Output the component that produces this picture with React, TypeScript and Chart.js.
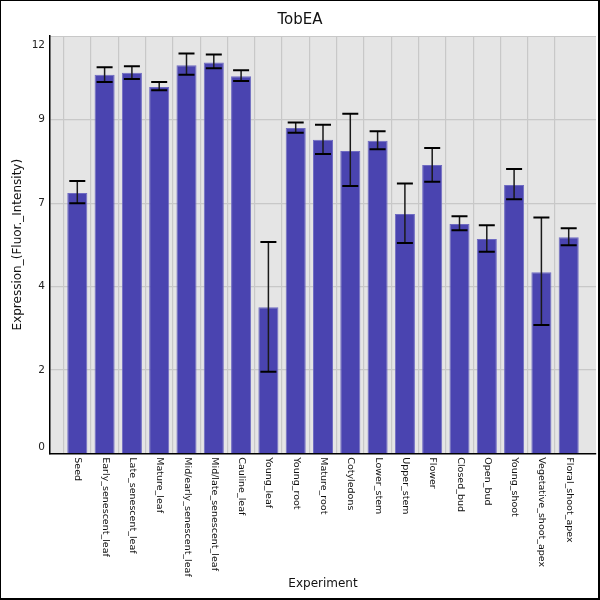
import React, { useEffect, useRef } from "react";
import { Chart, registerables } from "chart.js";

Chart.register(...registerables);

const title = "TobEA";
const xTitle = "Experiment";
const yTitle = "Expression_(Fluor._Intensity)";

const categories = [
  "Seed",
  "Early_senescent_leaf",
  "Late_senescent_leaf",
  "Mature_leaf",
  "Mid/early_senescent_leaf",
  "Mid/late_senescent_leaf",
  "Cauline_leaf",
  "Young_leaf",
  "Young_root",
  "Mature_root",
  "Cotyledons",
  "Lower_stem",
  "Upper_stem",
  "Flower",
  "Closed_bud",
  "Open_bud",
  "Young_shoot",
  "Vegetative_shoot_apex",
  "Floral_shoot_apex",
];

const values = [7.6, 11.13, 11.19, 10.77, 11.42, 11.5, 11.09, 4.19, 9.54, 9.19, 8.86, 9.16, 6.98, 8.44, 6.68, 6.23, 7.84, 5.24, 6.28];
const upper = [7.96, 11.36, 11.39, 10.92, 11.77, 11.74, 11.27, 6.14, 9.71, 9.64, 9.97, 9.45, 7.89, 8.95, 6.91, 6.64, 8.32, 6.87, 6.55];
const lower = [7.3, 10.92, 11.01, 10.67, 11.13, 11.33, 10.95, 2.27, 9.4, 8.77, 7.81, 8.91, 6.11, 7.94, 6.49, 5.85, 7.42, 3.66, 6.04];

const yTickValues = [0, 2.32, 4.81, 7.3, 9.8, 12];
const yTickLabels = ["0", "2", "4", "7", "9", "12"];
const yMin = -0.167;
const yMax = 12.29;

const FONT = "'DejaVu Sans', sans-serif";

export default function App() {
  const ref = useRef<HTMLCanvasElement | null>(null);

  useEffect(() => {
    document.body.style.margin = "0";
    const canvas = ref.current;
    if (!canvas) return;

    const labels = ["", ...categories, ""];
    const data = [null, ...values, null];
    const lo = [null, ...lower, null];
    const hi = [null, ...upper, null];

    const decor = {
      id: "decor",
      beforeDraw(chart: any) {
        const { ctx, chartArea } = chart;
        ctx.save();
        ctx.fillStyle = "#ffffff";
        ctx.fillRect(0, 0, chart.width, chart.height);
        ctx.fillStyle = "#e5e5e5";
        ctx.fillRect(chartArea.left, chartArea.top, chartArea.right - chartArea.left, chartArea.bottom - chartArea.top);
        ctx.strokeStyle = "#c8c8c8";
        ctx.lineWidth = 1.2;
        ctx.beginPath();
        ctx.moveTo(chartArea.left, chartArea.top + 0.5);
        ctx.lineTo(chartArea.right, chartArea.top + 0.5);
        ctx.stroke();
        ctx.restore();
      },
      afterDatasetsDraw(chart: any) {
        const { ctx } = chart;
        const meta = chart.getDatasetMeta(0);
        const yScale = chart.scales.y;
        ctx.save();
        meta.data.forEach((el: any, i: number) => {
          if (lo[i] == null || hi[i] == null) return;
          const x = el.x;
          const yl = yScale.getPixelForValue(lo[i]);
          const yh = yScale.getPixelForValue(hi[i]);
          ctx.strokeStyle = "#1a1a1a";
          ctx.lineWidth = 1.5;
          ctx.beginPath();
          ctx.moveTo(x, yl);
          ctx.lineTo(x, yh);
          ctx.stroke();
          ctx.strokeStyle = "#000000";
          ctx.lineWidth = 2;
          ctx.beginPath();
          ctx.moveTo(x - 8, yl);
          ctx.lineTo(x + 8, yl);
          ctx.moveTo(x - 8, yh);
          ctx.lineTo(x + 8, yh);
          ctx.stroke();
        });
        ctx.restore();
      },
      afterDraw(chart: any) {
        const { ctx, chartArea } = chart;
        const xScale = chart.scales.x;
        ctx.save();
        ctx.fillStyle = "#111";
        // x tick labels, rotated clockwise
        ctx.font = `9.5px ${FONT}`;
        categories.forEach((c, i) => {
          const x = xScale.getPixelForValue(i + 1);
          ctx.save();
          ctx.translate(x + 0.5, chartArea.bottom + 4);
          ctx.rotate(Math.PI / 2);
          ctx.textAlign = "left";
          ctx.textBaseline = "middle";
          ctx.fillText(c, 0, 0);
          ctx.restore();
        });
        // title
        ctx.font = `15px ${FONT}`;
        ctx.textAlign = "center";
        ctx.textBaseline = "middle";
        ctx.fillText(title, 300, 20);
        // x title
        ctx.font = `12px ${FONT}`;
        ctx.fillText(xTitle, (chartArea.left + chartArea.right) / 2, 584);
        // y title
        ctx.save();
        ctx.translate(18, (chartArea.top + chartArea.bottom) / 2);
        ctx.rotate(-Math.PI / 2);
        ctx.fillText(yTitle, 0, 0);
        ctx.restore();
        // outer border
        ctx.strokeStyle = "#000";
        ctx.lineWidth = 2;
        ctx.strokeRect(0, 0, 599, 599);
        ctx.restore();
      },
    };

    const chart = new Chart(canvas, {
      type: "bar",
      data: {
        labels,
        datasets: [
          {
            data,
            backgroundColor: "#4a44b0",
            borderColor: "#6f6bc2",
            borderWidth: 1,
            barPercentage: 0.735,
            categoryPercentage: 1,
            base: yMin,
          } as any,
        ],
      },
      options: {
        animation: false,
        responsive: false,
        devicePixelRatio: 1,
        layout: { padding: { top: 36, right: 4, left: 0, bottom: 0 } },
        plugins: {
          legend: { display: false },
          title: { display: false },
          tooltip: { enabled: false },
        },
        scales: {
          x: {
            type: "category",
            offset: false,
            afterFit(scale: any) {
              scale.height = 146.7;
            },
            ticks: { display: false },
            grid: {
              drawTicks: false,
              color: (ctx: any) =>
                ctx.index === 0 || ctx.index === labels.length - 1 ? "rgba(0,0,0,0)" : "#c8c8c8",
              lineWidth: 1.2,
            },
            border: { display: true, color: "#000", width: 1.5 },
          },
          y: {
            type: "linear",
            min: yMin,
            max: yMax,
            afterFit(scale: any) {
              scale.width = 50;
            },
            afterBuildTicks(scale: any) {
              scale.ticks = yTickValues.map((v) => ({ value: v }));
            },
            ticks: {
              padding: 5,
              color: "#222",
              font: { family: FONT, size: 10.5 },
              callback: (_v: any, i: number) => yTickLabels[i],
            },
            grid: {
              drawTicks: false,
              color: (ctx: any) =>
                ctx.index === 0 || ctx.index === yTickValues.length - 1 ? "rgba(0,0,0,0)" : "#c8c8c8",
              lineWidth: 1.2,
            },
            border: { display: true, color: "#000", width: 1.5 },
          },
        },
      },
      plugins: [decor],
    });

    return () => chart.destroy();
  }, []);

  return (
    <div style={{ width: 600, height: 600 }}>
      <canvas ref={ref} width={600} height={600} />
    </div>
  );
}
